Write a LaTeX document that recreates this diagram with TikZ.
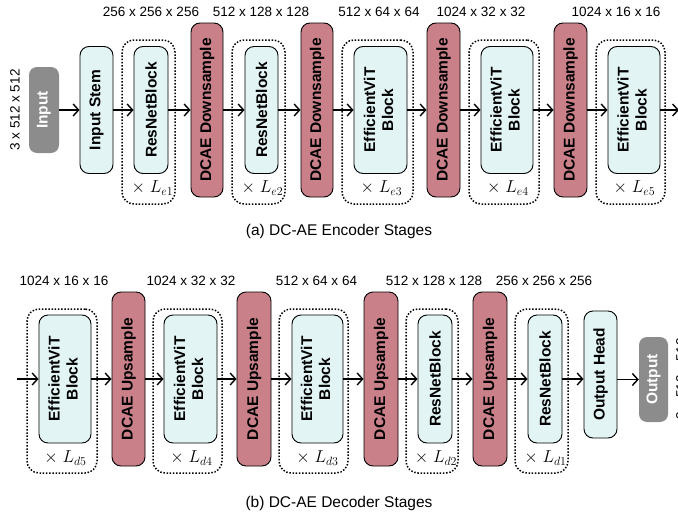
\documentclass[tikz,border=0pt]{standalone}
\usepackage{fontspec}
\setmainfont{Liberation Sans}
\usetikzlibrary{arrows.meta}
\definecolor{cyanfill}{HTML}{E2F4F4}
\definecolor{redfill}{HTML}{C98089}
\definecolor{grayfill}{HTML}{8C8C8C}
\newcommand\rt[1]{\rotatebox{90}{#1}}
\newcommand\rtt[2]{\rotatebox{90}{\def\arraystretch{1}\begin{tabular}{@{}c@{}}#1\\#2\end{tabular}}}
\begin{document}
\begin{tikzpicture}[x=1pt,y=-1pt,
  blk/.style={draw=black, line width=0.9pt, rounded corners=9pt, fill=cyanfill, inner sep=0pt,
    font=\fontsize{15.5}{18}\selectfont\bfseries},
  redblk/.style={blk, fill=redfill},
  grayblk/.style={fill=grayfill, rounded corners=8pt, text=white, inner sep=0pt,
    font=\fontsize{15.5}{18}\selectfont\bfseries},
  dotbox/.style={draw=black, line width=1.5pt, dash pattern=on 1.5pt off 1.7pt, rounded corners=12pt, inner sep=0pt},
  arr/.style={-{Straight Barb[length=5.5pt,width=12pt]}, line width=1.4pt},
  dim/.style={font=\fontsize{13.5}{15}\selectfont, inner sep=0pt},
  captxt/.style={font=\fontsize{15.5}{17}\selectfont, inner sep=0pt},
  mult/.style={font=\fontsize{17}{19}\selectfont, inner sep=0pt}
]
\clip (0,0) rectangle (678,514);
\useasboundingbox (0,0) rectangle (678,514);

% ---------------- Encoder ----------------
\node[dim, rotate=90] (inlab) at (15,110) {3 x 512 x 512};
\node[grayblk, minimum width=30pt, minimum height=86pt] (in) at (44,110) {\rt{Input}};
\node[blk, minimum width=33pt, minimum height=127pt] (stem) at (96.5,110) {\rt{Input Stem}};

\node[dotbox, minimum width=53pt, minimum height=164pt] (de1) at (148.5,122) {};
\node[blk, minimum width=34pt, minimum height=127pt] (e1) at (151,110) {\rt{ResNetBlock}};
\node[mult] (le1) at (152.5,188) {$\times\;L_{e1}$};
\node[redblk, minimum width=32pt, minimum height=174pt] (ds1) at (207,110) {\rt{DCAE Downsample}};

\node[dotbox, minimum width=53pt, minimum height=164pt] (de2) at (258.5,122) {};
\node[blk, minimum width=33pt, minimum height=127pt] (e2) at (261.5,110) {\rt{ResNetBlock}};
\node[mult] (le2) at (262.5,188) {$\times\;L_{e2}$};
\node[redblk, minimum width=32pt, minimum height=174pt] (ds2) at (317,110) {\rt{DCAE Downsample}};

\node[dotbox, minimum width=71pt, minimum height=164pt] (de3) at (377.5,122) {};
\node[blk, minimum width=53pt, minimum height=127pt] (e3) at (380.5,110) {\rtt{EfficientViT}{Block}};
\node[mult] (le3) at (381.5,188) {$\times\;L_{e3}$};
\node[redblk, minimum width=33pt, minimum height=174pt] (ds3) at (443.5,110) {\rt{DCAE Downsample}};

\node[dotbox, minimum width=70pt, minimum height=164pt] (de4) at (504,122) {};
\node[blk, minimum width=52pt, minimum height=127pt] (e4) at (507,110) {\rtt{EfficientViT}{Block}};
\node[mult] (le4) at (508,188) {$\times\;L_{e4}$};
\node[redblk, minimum width=33pt, minimum height=174pt] (ds4) at (570.5,110) {\rt{DCAE Downsample}};

\node[dotbox, minimum width=69pt, minimum height=164pt] (de5) at (630.5,122) {};
\node[blk, minimum width=52pt, minimum height=127pt] (e5) at (634,110) {\rtt{EfficientViT}{Block}};
\node[mult] (le5) at (634.5,188) {$\times\;L_{e5}$};
\coordinate (eend) at (679,110);

\draw[arr] (in.east) -- (stem.west);
\draw[arr] (stem.east) -- (e1.west);
\draw[arr] (e1.east) -- (ds1.west);
\draw[arr] (ds1.east) -- (e2.west);
\draw[arr] (e2.east) -- (ds2.west);
\draw[arr] (ds2.east) -- (e3.west);
\draw[arr] (e3.east) -- (ds3.west);
\draw[arr] (ds3.east) -- (e4.west);
\draw[arr] (e4.east) -- (ds4.west);
\draw[arr] (ds4.east) -- (e5.west);
\draw[arr] (e5.east) -- (eend);

\node[dim] (ed1) at (151,12) {256 x 256 x 256};
\node[dim] (ed2) at (261,12) {512 x 128 x 128};
\node[dim] (ed3) at (379,12) {512 x 64 x 64};
\node[dim] (ed4) at (481,12) {1024 x 32 x 32};
\node[dim] (ed5) at (616,12) {1024 x 16 x 16};
\node[captxt] (capa) at (339,231) {(a) DC-AE Encoder Stages};

% ---------------- Decoder ----------------
\coordinate (dstart) at (17,379);
\node[dotbox, minimum width=70pt, minimum height=164pt] (dd5) at (62,391) {};
\node[blk, minimum width=52pt, minimum height=128pt] (d5) at (65,379) {\rtt{EfficientViT}{Block}};
\node[mult] (ld5) at (65.5,458) {$\times\;L_{d5}$};
\node[redblk, minimum width=33pt, minimum height=174pt] (up1) at (128.5,379) {\rt{DCAE Upsample}};

\node[dotbox, minimum width=69pt, minimum height=164pt] (dd4) at (187.5,391) {};
\node[blk, minimum width=53pt, minimum height=128pt] (d4) at (190.5,379) {\rtt{EfficientViT}{Block}};
\node[mult] (ld4) at (191.5,458) {$\times\;L_{d4}$};
\node[redblk, minimum width=34pt, minimum height=174pt] (up2) at (254,379) {\rt{DCAE Upsample}};

\node[dotbox, minimum width=69pt, minimum height=164pt] (dd3) at (313.5,391) {};
\node[blk, minimum width=51pt, minimum height=128pt] (d3) at (317.5,379) {\rtt{EfficientViT}{Block}};
\node[mult] (ld3) at (317.5,458) {$\times\;L_{d3}$};
\node[redblk, minimum width=34pt, minimum height=174pt] (up3) at (381,379) {\rt{DCAE Upsample}};

\node[dotbox, minimum width=52pt, minimum height=164pt] (dd2) at (432,391) {};
\node[blk, minimum width=34pt, minimum height=128pt] (d2) at (435,379) {\rt{ResNetBlock}};
\node[mult] (ld2) at (436,458) {$\times\;L_{d2}$};
\node[redblk, minimum width=34pt, minimum height=174pt] (up4) at (490,379) {\rt{DCAE Upsample}};

\node[dotbox, minimum width=53pt, minimum height=164pt] (dd1) at (541.5,391) {};
\node[blk, minimum width=34pt, minimum height=128pt] (d1) at (545,379) {\rt{ResNetBlock}};
\node[mult] (ld1) at (545.5,458) {$\times\;L_{d1}$};

\node[blk, minimum width=33pt, minimum height=127pt] (head) at (600.5,374.5) {\rt{Output Head}};
\node[grayblk, minimum width=29pt, minimum height=85pt] (out) at (653.5,379.5) {\rt{Output}};
\node[dim, rotate=90] (outlab) at (681,379) {3 x 512 x 512};

\draw[arr] (dstart) -- (d5.west);
\draw[arr] (d5.east) -- (up1.west);
\draw[arr] (up1.east) -- (d4.west);
\draw[arr] (d4.east) -- (up2.west);
\draw[arr] (up2.east) -- (d3.west);
\draw[arr] (d3.east) -- (up3.west);
\draw[arr] (up3.east) -- (d2.west);
\draw[arr] (d2.east) -- (up4.west);
\draw[arr] (up4.east) -- (d1.west);
\draw[arr] (d1.east) -- (d1.east -| head.west);
\draw[arr] (head.east |- out.west) -- (out.west);

\node[dim] (dd5l) at (64,281) {1024 x 16 x 16};
\node[dim] (dd4l) at (191,281) {1024 x 32 x 32};
\node[dim] (dd3l) at (316.5,281) {512 x 64 x 64};
\node[dim] (dd2l) at (434,281) {512 x 128 x 128};
\node[dim] (dd1l) at (544,281) {256 x 256 x 256};
\node[captxt] (capb) at (339,503) {(b) DC-AE Decoder Stages};
\end{tikzpicture}
\end{document}
